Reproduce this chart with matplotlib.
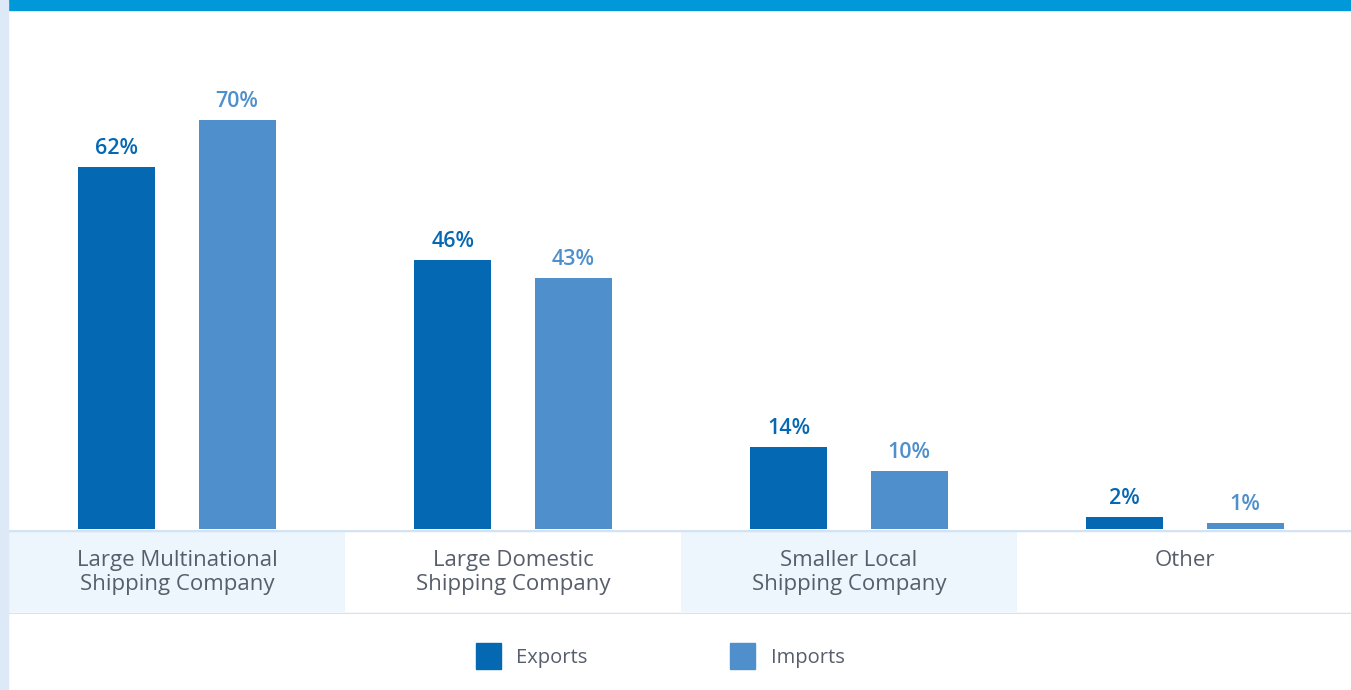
import matplotlib
matplotlib.use("Agg")
import matplotlib.pyplot as plt
from matplotlib.patches import Rectangle, Patch
import numpy as np

plt.rcParams['font.family'] = ['Open Sans', 'DejaVu Sans']

categories = ['Large Multinational\nShipping Company', 'Large Domestic\nShipping Company',
              'Smaller Local\nShipping Company', 'Other']
exports = [62, 46, 14, 2]
imports = [70, 43, 10, 1]
series_names = ['Exports', 'Imports']

dark_blue = '#0568b3'
light_blue = '#4f8fcc'
band_color = '#edf5fd'
rule_color = '#d3e3f4'
text_gray = '#575e6b'

W, H = 1351, 690
fig = plt.figure(figsize=(W / 100, H / 100), dpi=100)
fig.patch.set_facecolor('white')

# top stripe and left edge
fig.patches.append(Rectangle((7 / W, 1 - 10 / H), 1, 10 / H, transform=fig.transFigure,
                             color='#0098d8', zorder=5))
fig.patches.append(Rectangle((0, 0), 8 / W, 1, transform=fig.transFigure,
                             color='#dde9f7', zorder=5))

x = np.arange(len(categories))
width = 0.229
offset = 0.179

# bars
ax = fig.add_axes([9 / W, 161 / H, 1344 / W, 519 / H])
b1 = ax.bar(x - offset, exports, width, color=dark_blue)
b2 = ax.bar(x + offset, imports, width, color=light_blue)
ax.set_xlim(-0.5, len(categories) - 0.5)
ax.set_ylim(0, 88.9)
ax.axis('off')
for bars, vals, col in [(b1, exports, dark_blue), (b2, imports, light_blue)]:
    for rect, v in zip(bars, vals):
        ax.annotate(f'{v}%', (rect.get_x() + rect.get_width() / 2, v),
                    xytext=(0, 8), textcoords='offset pixels', ha='center', va='bottom',
                    fontsize=15.5, color=col, fontweight='semibold')

# category band under the bars
band = fig.add_axes([9 / W, 76 / H, 1344 / W, 84 / H])
band.set_xlim(-0.5, len(categories) - 0.5)
band.set_ylim(0, 1)
band.axis('off')
for i, name in enumerate(categories):
    if i % 2 == 0:
        band.axvspan(i - 0.5, i + 0.5, ymin=0.02, ymax=0.98, color=band_color, lw=0)
    band.text(i, 0.76, name, ha='center', va='top', fontsize=16, color=text_gray,
              linespacing=1.2)
band.axhline(1.0, color=rule_color, lw=2.5)
band.axhline(0.0, color=rule_color, lw=2.5)

handles = [Patch(color=dark_blue), Patch(color=light_blue)]
fig.legend(handles, series_names, loc='center', bbox_to_anchor=(660 / W, 1 - 656 / H),
           ncol=2, frameon=False, fontsize=14.5, labelcolor=text_gray,
           handlelength=1.25, handleheight=1.55, handletextpad=0.75, columnspacing=7.1)

fig.savefig('out.png', dpi=100)
